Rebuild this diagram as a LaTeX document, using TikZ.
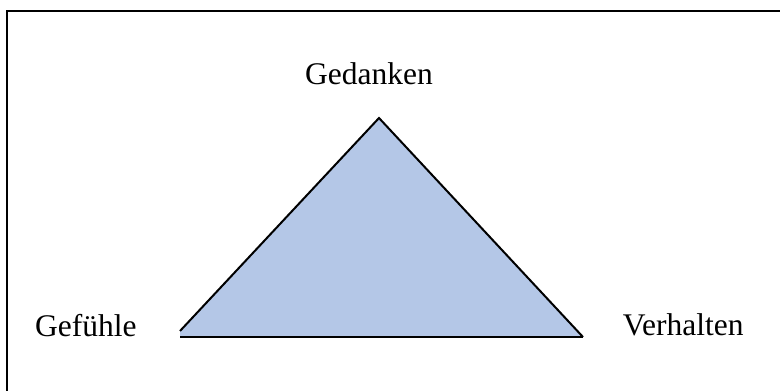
\documentclass[tikz,border=0pt]{standalone}
\usepackage{fontspec}
\setmainfont{Liberation Serif}
\definecolor{trifill}{HTML}{B4C7E7}
\begin{document}
\begin{tikzpicture}[x=1pt,y=-1pt,
  lbl/.style={inner sep=0pt,anchor=base west,font=\fontsize{31.5}{36}\selectfont},
  edge/.style={draw=black,line width=2pt,line cap=butt}]
\useasboundingbox (0,0) rectangle (780,391);
% frame (cut at right and bottom)
\draw[line width=2.2pt] (7,391) -- (7,11) -- (780,11);
% triangle
\coordinate (apex) at (379,118);
\coordinate (bl) at (180,331);
\coordinate (blb) at (180,337);
\coordinate (br) at (583,337);
\fill[trifill] (apex) -- (br) -- (blb) -- (bl) -- cycle;
\draw[edge,line join=miter] (bl) -- (apex) -- (br);
\draw[draw=black,line width=2.6pt] (blb) -- (br);
% labels
\node[lbl] (ged) at (305,84.3) {Gedanken};
\node[lbl] (gef) at (35,336.7) {Gefühle};
\node[lbl] (ver) at (622.7,335.7) {Verhalten};
\end{tikzpicture}
\end{document}
